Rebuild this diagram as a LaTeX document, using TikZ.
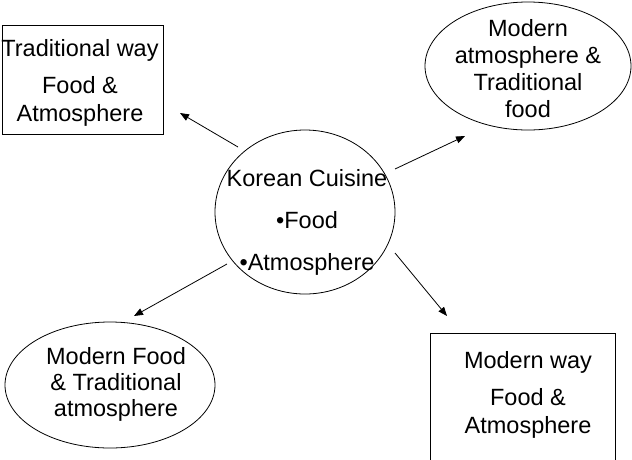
\documentclass[tikz,border=0pt]{standalone}
\usepackage{fontspec}
\setmainfont{Liberation Sans}
\usetikzlibrary{shapes.geometric,arrows.meta}
\begin{document}
\begin{tikzpicture}[x=1pt,y=-1pt,
  shapeline/.style={draw=black,line width=0.8pt,inner sep=0pt},
  oval/.style={shapeline,ellipse},
  boxshape/.style={shapeline,rectangle},
  txt/.style={inner sep=0pt,align=center,font=\fontsize{23.5}{#1}\selectfont},
  arr/.style={line width=0.8pt,-{Triangle[length=9pt,width=7pt]}}]
\useasboundingbox (0,0) rectangle (632,459);
\fill[white] (0,0) rectangle (632,459);
\clip (0,0) rectangle (632,459);
% shapes
\node[boxshape,minimum width=161pt,minimum height=109pt] (tl) at (82.5,79.5) {};
\node[oval,minimum width=206pt,minimum height=128pt] (tr) at (528,66) {};
\node[oval,minimum width=180pt,minimum height=164pt] (ctr) at (305,212) {};
\node[oval,minimum width=210pt,minimum height=126pt] (bl) at (110,385) {};
\node[boxshape,minimum width=185pt,minimum height=150pt] (br) at (522.5,408) {};
% texts
\node[txt=28] (tltext) at (80,83) {Traditional way\\[9pt]Food \&\\Atmosphere};
\node[txt=27] (trtext) at (528,68.7) {Modern\\atmosphere \&\\Traditional\\food};
\node[txt=42] (ctrtext) at (307,222.6) {Korean Cuisine\\•Food\\•Atmosphere};
\node[txt=26] (bltext) at (116,384.7) {Modern Food\\\& Traditional\\atmosphere};
\node[txt=28] (brtext) at (528,395) {Modern way\\[9pt]Food \&\\Atmosphere};
% arrow ends
\coordinate (s1) at (238,147); \coordinate (e1) at (180,113);
\coordinate (s2) at (395,169); \coordinate (e2) at (465,136);
\coordinate (s3) at (227,264); \coordinate (e3) at (134,316);
\coordinate (s4) at (395,253); \coordinate (e4) at (447,316);
\draw[arr] (s1) -- (e1);
\draw[arr] (s2) -- (e2);
\draw[arr] (s3) -- (e3);
\draw[arr] (s4) -- (e4);
\end{tikzpicture}
\end{document}
